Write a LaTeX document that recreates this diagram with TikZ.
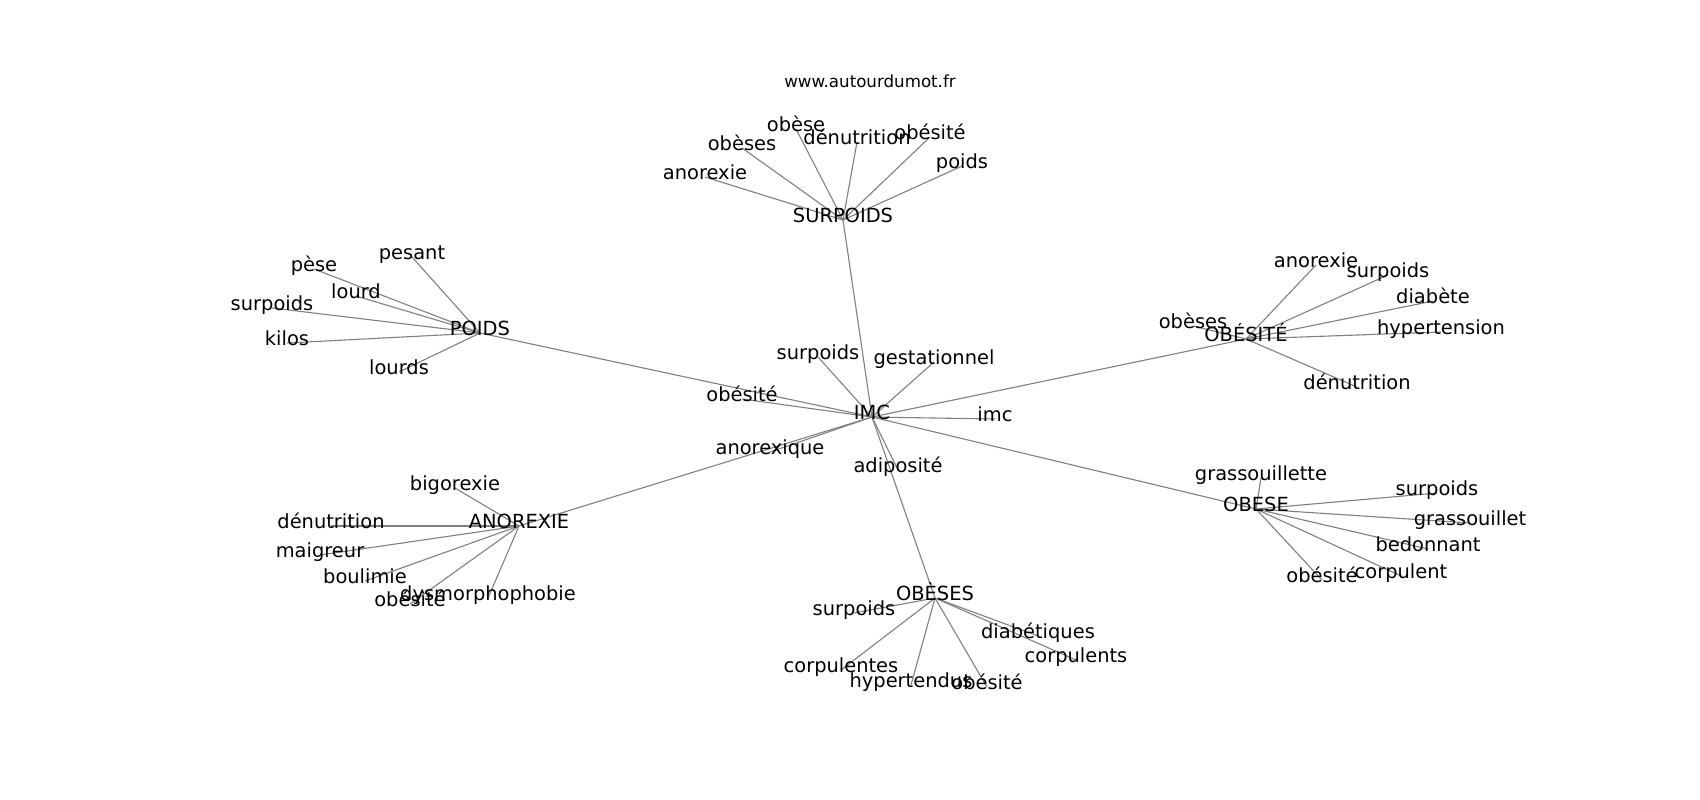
\documentclass[tikz,border=0pt]{standalone}
\usepackage{fontspec}
\setmainfont{DejaVu Sans}
\usepackage{tikz}
\usetikzlibrary{backgrounds}
\definecolor{edgegray}{RGB}{128, 128, 128}
\tikzset{
  term/.style={inner sep=0pt, text height=0.76em, text depth=0.24em, font=\fontsize{19.44}{23}\selectfont},
  site/.style={inner sep=0pt, text height=0.76em, text depth=0.24em, font=\fontsize{16.67}{20}\selectfont},
  link/.style={edgegray, line width=1.1pt}
}
\begin{document}
\begin{tikzpicture}[x=1pt, y=-1pt]
        \useasboundingbox (0,0) rectangle (1700,800);

        % Site name
        \node[site] (title) at (870, 85) {www.autourdumot.fr};

        % Central term
        \node[term] (imc) at (872, 417) {IMC};
        \node[term] (imc1) at (818, 357) {surpoids};
        \node[term] (imc2) at (934, 362) {gestationnel};
        \node[term] (imc3) at (742, 399) {obésité};
        \node[term] (imc4) at (995, 419) {imc};
        \node[term] (imc5) at (770, 452) {anorexique};
        \node[term] (imc6) at (898, 470) {adiposité};

        % SURPOIDS cluster
        \node[term] (surp) at (843, 220) {SURPOIDS};
        \node[term] (surp1) at (705, 177) {anorexie};
        \node[term] (surp2) at (742, 148) {obèses};
        \node[term] (surp3) at (796, 129) {obèse};
        \node[term] (surp4) at (857, 142) {dénutrition};
        \node[term] (surp5) at (930, 137) {obésité};
        \node[term] (surp6) at (962, 166) {poids};

        % POIDS cluster
        \node[term] (poids) at (480, 333) {POIDS};
        \node[term] (poids1) at (412, 257) {pesant};
        \node[term] (poids2) at (314, 269) {pèse};
        \node[term] (poids3) at (356, 296) {lourd};
        \node[term] (poids4) at (272, 308) {surpoids};
        \node[term] (poids5) at (287, 343) {kilos};
        \node[term] (poids6) at (399, 372) {lourds};

        % OBÉSITÉ cluster
        \node[term] (obesite) at (1246, 339) {OBÉSITÉ};
        \node[term] (obesite1) at (1316, 265) {anorexie};
        \node[term] (obesite2) at (1388, 275) {surpoids};
        \node[term] (obesite3) at (1433, 301) {diabète};
        \node[term] (obesite4) at (1441, 332) {hypertension};
        \node[term] (obesite5) at (1193, 326) {obèses};
        \node[term] (obesite6) at (1357, 387) {dénutrition};

        % ANOREXIE cluster
        \node[term] (anorex) at (519, 526) {ANOREXIE};
        \node[term] (anorex1) at (455, 488) {bigorexie};
        \node[term] (anorex2) at (331, 526) {dénutrition};
        \node[term] (anorex3) at (320, 555) {maigreur};
        \node[term] (anorex4) at (365, 581) {boulimie};
        \node[term] (anorex5) at (410, 604) {obésité};
        \node[term] (anorex6) at (488, 598) {dysmorphophobie};

        % OBÈSES cluster
        \node[term] (obeses) at (935, 598) {OBÈSES};
        \node[term] (obeses1) at (854, 613) {surpoids};
        \node[term] (obeses2) at (1038, 636) {diabétiques};
        \node[term] (obeses3) at (1076, 660) {corpulents};
        \node[term] (obeses4) at (841, 670) {corpulentes};
        \node[term] (obeses5) at (911, 685) {hypertendus};
        \node[term] (obeses6) at (987, 687) {obésité};

        % OBESE cluster
        \node[term] (obese) at (1256, 509) {OBESE};
        \node[term] (obese1) at (1261, 478) {grassouillette};
        \node[term] (obese2) at (1437, 493) {surpoids};
        \node[term] (obese3) at (1470, 523) {grassouillet};
        \node[term] (obese4) at (1428, 549) {bedonnant};
        \node[term] (obese5) at (1322, 580) {obésité};
        \node[term] (obese6) at (1401, 576) {corpulent};

        \begin{scope}[on background layer]
        \fill[white] (0,0) rectangle (1700,800);

        % Links from the central term
        \draw[link] (imc.center) -- (surp.center);
        \draw[link] (imc.center) -- (poids.center);
        \draw[link] (imc.center) -- (obesite.center);
        \draw[link] (imc.center) -- (anorex.center);
        \draw[link] (imc.center) -- (obeses.center);
        \draw[link] (imc.center) -- (obese.center);
        \draw[link] (imc.center) -- (imc1.center);
        \draw[link] (imc.center) -- (imc2.center);
        \draw[link] (imc.center) -- (imc3.center);
        \draw[link] (imc.center) -- (imc4.center);
        \draw[link] (imc.center) -- (imc5.center);
        \draw[link] (imc.center) -- (imc6.center);

        % Links of the clusters
        \draw[link] (surp.center) -- (surp1.center);
        \draw[link] (surp.center) -- (surp2.center);
        \draw[link] (surp.center) -- (surp3.center);
        \draw[link] (surp.center) -- (surp4.center);
        \draw[link] (surp.center) -- (surp5.center);
        \draw[link] (surp.center) -- (surp6.center);

        \draw[link] (poids.center) -- (poids1.center);
        \draw[link] (poids.center) -- (poids2.center);
        \draw[link] (poids.center) -- (poids3.center);
        \draw[link] (poids.center) -- (poids4.center);
        \draw[link] (poids.center) -- (poids5.center);
        \draw[link] (poids.center) -- (poids6.center);

        \draw[link] (obesite.center) -- (obesite1.center);
        \draw[link] (obesite.center) -- (obesite2.center);
        \draw[link] (obesite.center) -- (obesite3.center);
        \draw[link] (obesite.center) -- (obesite4.center);
        \draw[link] (obesite.center) -- (obesite5.center);
        \draw[link] (obesite.center) -- (obesite6.center);

        \draw[link] (anorex.center) -- (anorex1.center);
        \draw[link] (anorex.center) -- (anorex2.center);
        \draw[link] (anorex.center) -- (anorex3.center);
        \draw[link] (anorex.center) -- (anorex4.center);
        \draw[link] (anorex.center) -- (anorex5.center);
        \draw[link] (anorex.center) -- (anorex6.center);

        \draw[link] (obeses.center) -- (obeses1.center);
        \draw[link] (obeses.center) -- (obeses2.center);
        \draw[link] (obeses.center) -- (obeses3.center);
        \draw[link] (obeses.center) -- (obeses4.center);
        \draw[link] (obeses.center) -- (obeses5.center);
        \draw[link] (obeses.center) -- (obeses6.center);

        \draw[link] (obese.center) -- (obese1.center);
        \draw[link] (obese.center) -- (obese2.center);
        \draw[link] (obese.center) -- (obese3.center);
        \draw[link] (obese.center) -- (obese4.center);
        \draw[link] (obese.center) -- (obese5.center);
        \draw[link] (obese.center) -- (obese6.center);
        \end{scope}
    \end{tikzpicture}
\end{document}
